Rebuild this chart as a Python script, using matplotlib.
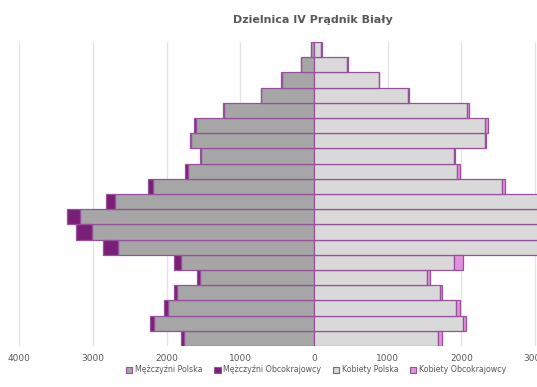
import numpy as np
import matplotlib
matplotlib.use('Agg')
import matplotlib.pyplot as plt
from matplotlib.patches import Patch

# Grupy wieku od najmlodszej (dol) do najstarszej (gora)
age_groups = ['0-4', '5-9', '10-14', '15-19', '20-24', '25-29', '30-34', '35-39',
              '40-44', '45-49', '50-54', '55-59', '60-64', '65-69', '70-74',
              '75-79', '80-84', '85-89', '90-94', '95+']

men_pl = [1766, 2169, 1980, 1853, 1549, 1798, 2658, 3012, 3180, 2704,
          2183, 1708, 1529, 1665, 1596, 1221, 714, 440, 172, 43]
men_obc = [41, 59, 54, 45, 36, 104, 204, 222, 172, 113,
           68, 45, 20, 20, 30, 20, 10, 8, 5, 2]
women_pl = [1689, 2020, 1925, 1705, 1531, 1902, 3150, 3400, 3350, 3100,
            2550, 1939, 1896, 2317, 2325, 2076, 1275, 877, 450, 100]
women_obc = [54, 45, 59, 30, 45, 118, 60, 80, 80, 60,
             45, 45, 20, 20, 30, 30, 20, 10, 8, 10]

series_labels = ['Mężczyźni Polska', 'Mężczyźni Obcokrajowcy',
                 'Kobiety Polska', 'Kobiety Obcokrajowcy']
colors = ['#a6a6a6', '#7a1f78', '#d9d9d9', '#e391df']
EDGE = '#96519a'
TXT = '#595959'

fig = plt.figure(figsize=(5.37, 3.87), dpi=100)
# os X wychodzi poza prawa krawedz obrazka (jak w oryginale)
ax = fig.add_axes([19.2 / 537, 41 / 387, 589.6 / 537, 304 / 387])

y = np.arange(len(age_groups))
mp = -np.array(men_pl)
mo = -np.array(men_obc)
wp = np.array(women_pl)
wo = np.array(women_obc)

kw = dict(height=1.0, edgecolor=EDGE, linewidth=0.9, zorder=3)
ax.barh(y, mp, color=colors[0], **kw)
ax.barh(y, mo, left=mp, color=colors[1], **kw)
ax.barh(y, wp, color=colors[2], **kw)
ax.barh(y, wo, left=wp, color=colors[3], **kw)

ax.set_xlim(-4000, 4000)
ax.set_ylim(-0.5, len(age_groups) - 0.5)
ax.set_xticks(np.arange(-4000, 4001, 1000))
ax.xaxis.set_major_formatter(matplotlib.ticker.FuncFormatter(lambda v, p: f"{abs(int(v))}"))
ax.set_yticks([])
ax.tick_params(axis='x', length=0, labelsize=6.5, labelcolor=TXT, pad=6)
ax.grid(True, axis='x', color='#e3e3e3', linewidth=0.9, zorder=0)
for s in ax.spines.values():
    s.set_visible(False)

fig.text(313 / 537, 1 - 20 / 387, 'Dzielnica IV Prądnik Biały', ha='center', va='center',
         fontsize=8, fontweight='bold', color=TXT)

handles = [Patch(facecolor=c, edgecolor=EDGE, linewidth=0.8) for c in colors]
fig.legend(handles, series_labels, loc='center', bbox_to_anchor=(316 / 537, 1 - 370 / 387),
           ncol=4, frameon=False, fontsize=5.7, labelcolor=TXT, handlelength=0.8,
           handleheight=0.8, handletextpad=0.3, columnspacing=1.5)

fig.savefig('out.png', dpi=100)
